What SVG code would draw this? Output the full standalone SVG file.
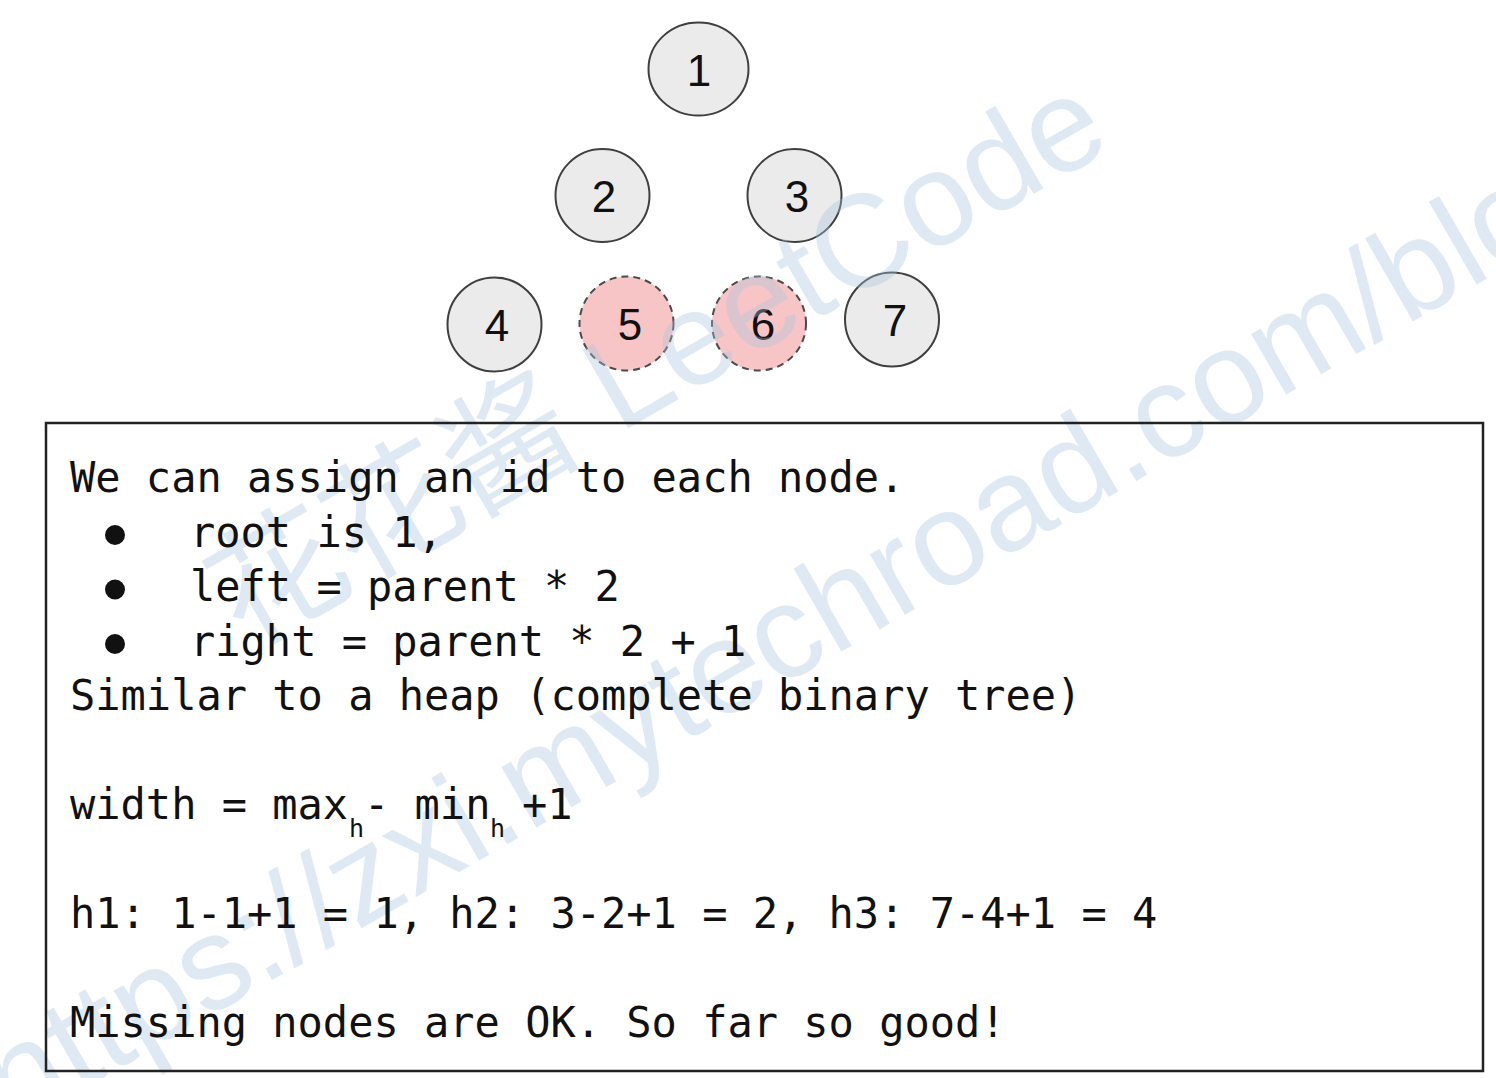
<svg xmlns="http://www.w3.org/2000/svg" width="1496" height="1078" viewBox="0 0 1496 1078">
<style>
.node{fill:#ebebeb;stroke:#3f3f3f;stroke-width:2}
.miss{fill:#f7c5c6;stroke:#4a4a4a;stroke-width:2;stroke-dasharray:7 5}
.lbl{font-family:"Liberation Sans",Arial,sans-serif;font-size:44px;fill:#111;text-anchor:middle}
.mono{font-family:"DejaVu Sans Mono","Liberation Mono",monospace;font-size:42px;fill:#111}
.sub{font-family:"DejaVu Sans Mono","Liberation Mono",monospace;font-size:25px;fill:#111}
.wm{font-family:"Liberation Sans","Noto Sans CJK SC",sans-serif;font-size:132px;fill:#a9c4de;opacity:0.36}
</style>
<rect width="1496" height="1078" fill="#ffffff"/>
<g id="connectors"></g>
<g id="node1"><ellipse class="node" cx="698.5" cy="69" rx="50" ry="46.5"/><text class="lbl" x="699" y="86">1</text></g>
<g id="node2"><ellipse class="node" cx="602.5" cy="195.5" rx="47" ry="46.5"/><text class="lbl" x="604" y="212">2</text></g>
<g id="node3"><ellipse class="node" cx="794.5" cy="195.5" rx="47" ry="46.5"/><text class="lbl" x="797" y="212">3</text></g>
<g id="node4"><ellipse class="node" cx="494.5" cy="324.5" rx="47" ry="47"/><text class="lbl" x="497" y="341">4</text></g>
<g id="node5"><ellipse class="miss" cx="626.5" cy="323.5" rx="47" ry="47"/><text class="lbl" x="630" y="340">5</text></g>
<g id="node6"><ellipse class="miss" cx="759" cy="323.5" rx="47" ry="47"/><text class="lbl" x="763" y="340">6</text></g>
<g id="node7"><ellipse class="node" cx="892" cy="319.5" rx="47" ry="47"/><text class="lbl" x="895" y="336">7</text></g>
<g id="watermark">
<text class="wm" transform="translate(244,650) rotate(-30)">花花酱 LeetCode</text>
<text class="wm" transform="translate(14,1129) rotate(-30)">https://zxi.mytechroad.com/blog</text>
</g>
<g id="textbox">
<rect x="46" y="423" width="1437" height="648" fill="none" stroke="#222" stroke-width="2.5"/>
<text class="mono" x="70" y="492">We can assign an id to each node.</text>
<circle cx="115" cy="535" r="10" fill="#111"/>
<circle cx="115" cy="589.5" r="10" fill="#111"/>
<circle cx="115" cy="644" r="10" fill="#111"/>
<text class="mono" x="190" y="546.5">root is 1,</text>
<text class="mono" x="190" y="601">left = parent * 2</text>
<text class="mono" x="190" y="655.5">right = parent * 2 + 1</text>
<text class="mono" x="70" y="710">Similar to a heap (complete binary tree)</text>
<text class="mono" x="70" y="819">width = max</text>
<text class="sub" x="349" y="837">h</text>
<text class="mono" x="364" y="819">- min</text>
<text class="sub" x="490" y="837">h</text>
<text class="mono" x="522" y="819">+1</text>
<text class="mono" x="70" y="928">h1: 1-1+1 = 1, h2: 3-2+1 = 2, h3: 7-4+1 = 4</text>
<text class="mono" x="70" y="1037">Missing nodes are OK. So far so good!</text>
</g>
</svg>
